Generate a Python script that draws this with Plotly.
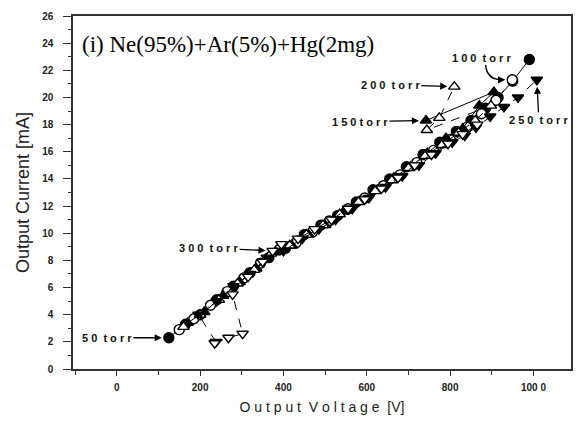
import plotly.graph_objects as go

# ---------------- data ----------------
v_50 = [125, 165, 200, 240, 280, 320, 365, 405, 450, 490, 530, 575, 615, 655, 695, 735, 775, 815, 850, 885, 915, 950, 990]
i_50 = [2.3, 3.3, 4.0, 5.1, 6.1, 7.1, 8.2, 8.9, 9.9, 10.6, 11.3, 12.3, 13.2, 14.0, 14.9, 15.8, 16.7, 17.5, 18.3, 19.2, 20.0, 21.2, 22.8]

v_100 = [150, 185, 225, 265, 305, 345, 390, 430, 470, 510, 555, 595, 640, 680, 720, 760, 800, 840, 875, 910, 949]
i_100 = [2.9, 3.7, 4.7, 5.7, 6.7, 7.8, 8.8, 9.3, 10.1, 10.9, 11.8, 12.6, 13.5, 14.3, 15.2, 16.1, 16.9, 17.8, 18.8, 19.8, 21.3]

v_150 = [170, 210, 255, 295, 335, 380, 420, 460, 500, 545, 585, 625, 665, 705, 745, 790, 830, 870, 905, 742]
i_150 = [3.4, 4.2, 5.4, 6.4, 7.4, 8.6, 9.1, 9.9, 10.6, 11.6, 12.4, 13.2, 14.1, 14.9, 15.9, 17.0, 17.7, 19.4, 20.4, 18.3]

v_200 = [160, 200, 245, 290, 330, 370, 415, 455, 495, 535, 580, 620, 660, 700, 740, 780, 820, 860, 898, 744, 774, 810]
i_200 = [3.1, 4.0, 5.1, 6.3, 7.3, 8.5, 9.1, 9.9, 10.6, 11.4, 12.3, 13.1, 13.9, 14.8, 15.7, 16.5, 17.4, 18.3, 19.4, 17.6, 18.5, 20.8]

v_250 = [238, 196, 240, 280, 320, 360, 400, 445, 485, 525, 565, 605, 645, 685, 725, 765, 805, 835, 862, 896, 929, 963, 1008]
i_250 = [2.0, 4.0, 5.0, 6.1, 7.0, 8.2, 8.7, 9.6, 10.3, 11.0, 11.8, 12.6, 13.4, 14.2, 15.0, 15.9, 16.7, 17.2, 17.8, 18.6, 19.3, 20.0, 21.3]

v_300 = [235, 268, 302, 278, 315, 350, 374, 395, 435, 475, 515, 555, 595, 635, 675, 715, 755, 795, 830, 865]
i_300 = [1.9, 2.3, 2.6, 5.5, 6.8, 7.9, 8.7, 9.2, 9.6, 10.3, 11.0, 11.8, 12.5, 13.3, 14.1, 15.0, 15.8, 16.6, 17.3, 18.0]

series_names = ["50 torr", "100 torr", "150 torr", "200 torr", "250 torr", "300 torr"]
x_tickvals = [0, 200, 400, 600, 800, 1000]
x_ticktext = ["0", "200", "400", "600", "800", "100 0"]
y_tickvals = list(range(0, 27, 2))

# ---------------- figure ----------------
fig = go.Figure()

styles = [
    (v_50, i_50, "circle", "black", "solid"),
    (v_100, i_100, "circle", "white", "dash"),
    (v_150, i_150, "triangle-up", "black", "solid"),
    (v_200, i_200, "triangle-up", "white", "dash"),
    (v_250, i_250, "triangle-down", "black", "dash"),
    (v_300, i_300, "triangle-down", "white", "dash"),
]
for name, (vx, iy, sym, fill, dash) in zip(series_names, styles):
    fig.add_trace(go.Scatter(
        x=vx, y=iy, name=name, mode="lines+markers",
        line=dict(color="black", width=1, dash=dash),
        marker=dict(symbol=sym, size=10, color=fill, line=dict(color="black", width=1.4)),
        showlegend=False,
    ))

lab_font = dict(family="Liberation Sans, Arial, sans-serif", size=11, color="#111", weight="bold")

# label annotations: (text, head x, head y, ax, ay)
arrow_labels = [
    ("5 0  t o r r", v_50[0], i_50[0], -62, 0),
    ("1 5 0 t o r r", v_150[-1], i_150[-1], -66, 1),
    ("2 0 0  t o r r", v_200[-1], i_200[-1], -64, -2),
    ("3 0 0  t o r r", v_300[6], i_300[6], -64, -3),
    ("2 5 0  t o r r", v_250[-1], i_250[-1], 2, 40),
]
for txt, hx, hy, ax, ay in arrow_labels:
    fig.add_annotation(x=hx, y=hy, text=txt, showarrow=True, ax=ax, ay=ay,
                       arrowhead=2, arrowsize=1.1, arrowwidth=1.3, arrowcolor="black",
                       standoff=7, font=lab_font)

# 100 torr label with curved arrow
fig.add_annotation(x=v_100[-1], y=i_100[-1], text="1 0 0  t o r r", showarrow=False,
                   xshift=-31, yshift=22, font=lab_font)
fig.add_shape(type="path", xref="x", yref="y",
              path="M 885,22.4 Q 888,21.3 925,21.3",
              line=dict(color="black", width=1.4))
fig.add_annotation(x=v_100[-1], y=i_100[-1], text="", showarrow=True, ax=-14, ay=0,
                   arrowhead=2, arrowsize=1.1, arrowwidth=1.3, arrowcolor="black", standoff=7)

# title inside plot
fig.add_annotation(xref="paper", yref="paper", x=0.015, y=0.92, xanchor="left", yanchor="middle",
                   text="(i) Ne(95%)+Ar(5%)+Hg(2mg)", showarrow=False,
                   font=dict(family="Liberation Serif, Times New Roman, serif", size=23, color="black"))

axis_common = dict(showline=True, linecolor="#333", linewidth=1.5, mirror=True,
                   showgrid=False, zeroline=False, ticks="outside", tickcolor="#333",
                   tickwidth=1.3,
                   tickfont=dict(family="Liberation Sans, Arial, sans-serif", size=10, color="#222", weight="bold"))

fig.update_xaxes(range=[-105, 1090], tickvals=x_tickvals, ticktext=x_ticktext, ticklen=5,
                 ticklabelstandoff=3,
                 minor=dict(dtick=100, tick0=0, ticks="outside", ticklen=4, tickcolor="#333"),
                 title=dict(text="O u t p u t  V o l t a g e  [V]", standoff=10,
                            font=dict(family="Liberation Sans, Arial, sans-serif", size=14, color="#222")),
                 **axis_common)
fig.update_yaxes(range=[0, 26], tickvals=y_tickvals, ticklen=8,
                 ticklabelstandoff=8,
                 minor=dict(dtick=1, tick0=0, ticks="outside", ticklen=3, tickcolor="#333"),
                 title=dict(text="Output Current [mA]", standoff=8,
                            font=dict(family="Liberation Sans, Arial, sans-serif", size=18, color="#222")),
                 **axis_common)

fig.update_layout(width=577, height=421, margin=dict(l=73, r=4, t=16, b=52),
                  plot_bgcolor="white", paper_bgcolor="white")

fig.write_html("out.html")
